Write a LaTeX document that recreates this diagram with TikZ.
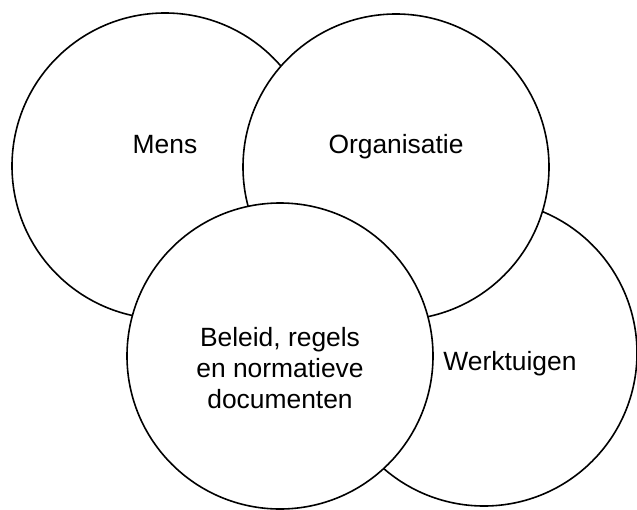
\documentclass[tikz,border=0pt]{standalone}
\usepackage{fontspec}
\setmainfont{Liberation Sans}
\usetikzlibrary{positioning}

\begin{document}
\begin{tikzpicture}[x=0.5pt,y=-0.5pt,
  every node/.style={font=\fontsize{13.2}{15.4}\selectfont},
  ring/.style={circle,draw,fill=white,line width=.8pt,minimum size=153pt,inner sep=0pt}]
\useasboundingbox (0,0) rectangle (637,509);
% circles, lowest first
\node[ring] (mens) at (165,166) {};
\node[ring] (werk) at (484,353) {};
\node[ring] (org) at (396,167) {};
\node[ring] (beleid) at (280,356) {};
% labels
\node[anchor=base] (mensTxt) at (165,153) {Mens};
\node[anchor=base] (orgTxt) at (396,153) {Organisatie};
\node[anchor=base] (werkTxt) at (510,370) {Werktuigen};
\node[align=center] (beleidTxt) at (280,368) {Beleid, regels\\en normatieve\\documenten};
\end{tikzpicture}
\end{document}
